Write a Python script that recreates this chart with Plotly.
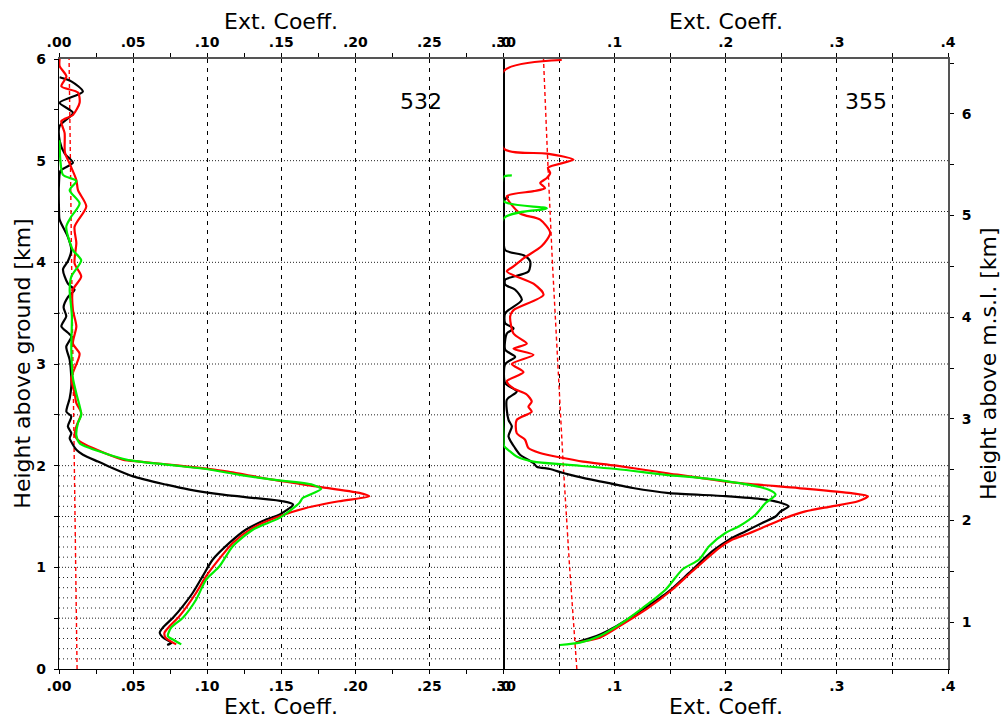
import plotly.graph_objects as go

# ---------------- profile data (height above ground [km], extinction) ----------------
# 532 nm
h_532_black = [0.236, 0.259, 0.30, 0.357, 0.406, 0.504, 0.619, 0.75, 0.913, 1.077, 1.24, 1.37, 1.47, 1.52,
               1.617, 1.65, 1.68, 1.715, 1.764, 1.813, 1.895, 1.99, 2.04, 2.108, 2.157, 2.206, 2.27, 2.32,
               2.386, 2.484, 2.53, 2.66, 2.78, 2.86, 3.04, 3.17, 3.27, 3.37, 3.47, 3.56, 3.66, 3.73, 3.79,
               3.93, 4.01, 4.12, 4.25, 4.42, 4.52, 4.78, 4.90, 4.98, 5.07, 5.2, 5.34, 5.47, 5.57, 5.68,
               5.78, 5.82]
e_532_black = [0.073, 0.076, 0.071, 0.068, 0.070, 0.0769, 0.0836, 0.0903, 0.097, 0.1038, 0.115, 0.126, 0.1398,
               0.149, 0.158, 0.151, 0.133, 0.1106, 0.088, 0.0724, 0.050, 0.034, 0.0263, 0.0162, 0.0117,
               0.0094, 0.0072, 0.0083, 0.006, 0.0083, 0.005, 0.0072, 0.0083, 0.0083, 0.0072, 0.0049, 0.0083,
               0.0016, 0.0049, 0.0031, 0.0061, 0.0105, 0.006, 0.0027, 0.006, 0.0083, 0.006, 0.0004, 0.0,
               0.0, 0.001, 0.0094, 0.0038, 0.0004, 0.0004, 0.0094, 0.0004, 0.0161, 0.0083, 0.0004]

h_532_red = [0.242, 0.308, 0.357, 0.42, 0.52, 0.75, 0.913, 1.044, 1.24, 1.388, 1.502, 1.584, 1.65, 1.699,
             1.732, 1.797, 1.862, 1.944, 2.0, 2.04, 2.06, 2.173, 2.24, 2.30, 2.386, 2.517, 2.615, 2.71, 2.86,
             3.1, 3.2, 3.37, 3.53, 3.73, 3.86, 3.99, 4.19, 4.35, 4.55, 4.71, 4.81, 4.96, 5.08, 5.27, 5.39,
             5.45, 5.57, 5.67, 5.73, 5.83, 5.93, 6.0]
e_532_red = [0.0791, 0.0719, 0.0712, 0.0746, 0.0813, 0.0926, 0.0993, 0.106, 0.1173, 0.1308, 0.1488, 0.1667,
             0.189, 0.2094, 0.2027, 0.1735, 0.144, 0.1128, 0.0813, 0.0544, 0.043, 0.0229, 0.0139, 0.0106,
             0.0117, 0.015, 0.0117, 0.0106, 0.0083, 0.0139, 0.0094, 0.0117, 0.0094, 0.0094, 0.015, 0.0105,
             0.0117, 0.0105, 0.0184, 0.0128, 0.0117, 0.0075, 0.004, 0.0038, 0.0016, 0.0094, 0.0139, 0.0128,
             0.0016, 0.005, 0.0004, 0.0004]

h_532_green = [0.242, 0.28, 0.324, 0.406, 0.504, 0.684, 0.88, 1.01, 1.208, 1.37, 1.486, 1.633, 1.682, 1.77,
               1.813, 1.862, 1.91, 1.967, 2.01, 2.06, 2.173, 2.22, 2.30, 2.42, 2.50, 2.71, 2.86, 3.14, 3.47,
               3.73, 3.86, 4.02, 4.12, 4.35, 4.45, 4.58, 4.71, 4.8, 4.86, 5.01, 5.2]
e_532_green = [0.0825, 0.078, 0.0735, 0.0757, 0.0836, 0.0926, 0.0993, 0.1083, 0.1173, 0.1308, 0.1488, 0.1622,
               0.1645, 0.1769, 0.1712, 0.1443, 0.1218, 0.0993, 0.0724, 0.0454, 0.0207, 0.0139, 0.0117, 0.0128,
               0.015, 0.0117, 0.0094, 0.0083, 0.0087, 0.0072, 0.0083, 0.015, 0.0094, 0.0049, 0.0083, 0.0139,
               0.0072, 0.0117, 0.0027, 0.0009, 0.0004]

h_532_mol = [0, 1, 2, 3, 4, 5, 6]
e_532_mol = [0.0122, 0.0112, 0.0102, 0.0093, 0.0085, 0.0077, 0.0068]

# 355 nm
h_355_black = [0.26, 0.324, 0.422, 0.586, 0.766, 0.946, 1.159, 1.273, 1.355, 1.437, 1.50, 1.55, 1.60, 1.64,
               1.666, 1.70, 1.73, 1.78, 1.846, 1.895, 1.928, 1.967, 1.99, 2.026, 2.108, 2.173, 2.288, 2.386,
               2.45, 2.65, 2.73, 2.81, 3.0, 3.07, 3.14, 3.30, 3.35, 3.40, 3.5, 3.63, 3.73, 3.78, 3.83, 3.91,
               4.01, 4.07, 4.12, 4.32, 4.6, 4.65]
e_355_black = [0.065, 0.0836, 0.1015, 0.1254, 0.149, 0.167, 0.188, 0.203, 0.218, 0.2328, 0.2448, 0.2493,
               0.2567, 0.2478, 0.2358, 0.20, 0.149, 0.1164, 0.0866, 0.0657, 0.0537, 0.0418, 0.0299, 0.0269,
               0.0149, 0.0104, 0.0045, 0.0075, 0.0045, 0.003, 0.012, 0.0015, 0.0015, 0.0105, 0.0015, 0.003,
               0.009, 0.0015, 0.0015, 0.0165, 0.0105, 0.0015, 0.0015, 0.0225, 0.024, 0.018, 0.0015, 0.0, 0.0,
               0.0045]

h_355_red = [0.26, 0.308, 0.422, 0.586, 0.782, 0.962, 1.19, 1.273, 1.322, 1.404, 1.486, 1.55, 1.60, 1.65,
             1.70, 1.73, 1.78, 1.836, 1.928, 2.0, 2.04, 2.075, 2.124, 2.173, 2.255, 2.32, 2.45, 2.53, 2.58,
             2.63, 2.70, 2.76, 2.83, 2.92, 3.0, 3.09, 3.15, 3.2, 3.30, 3.47, 3.53, 3.68, 3.79, 3.91, 3.96,
             4.04, 4.16, 4.29, 4.42, 4.48, 4.65, 4.70, 4.73, 4.78, 4.83, 4.88, 4.93, 5.01, 5.07, 5.12, 5.88,
             5.99]
e_355_red = [0.065, 0.0866, 0.1045, 0.1284, 0.152, 0.170, 0.194, 0.206, 0.218, 0.236, 0.2537, 0.2716, 0.2955,
             0.319, 0.328, 0.313, 0.2657, 0.206, 0.146, 0.1015, 0.0716, 0.0537, 0.0328, 0.0224, 0.0194,
             0.0119, 0.0119, 0.0254, 0.0224, 0.0254, 0.0209, 0.009, 0.003, 0.018, 0.0075, 0.027, 0.009,
             0.021, 0.009, 0.006, 0.009, 0.036, 0.027, 0.003, 0.009, 0.018, 0.0344, 0.042, 0.033, 0.015,
             0.003, 0.027, 0.0374, 0.033, 0.039, 0.042, 0.040, 0.063, 0.039, 0.0, 0.0, 0.0524]

h_355_green = [0.236, 0.259, 0.324, 0.439, 0.602, 0.782, 0.979, 1.077, 1.208, 1.34, 1.404, 1.52, 1.633, 1.715,
               1.764, 1.862, 1.91, 1.967, 2.01, 2.04, 2.09, 2.14, 2.19, 2.3, 4.43, 4.53, 4.6, 4.84, 4.855]
e_355_green = [0.0507, 0.0687, 0.0866, 0.1045, 0.1254, 0.146, 0.161, 0.176, 0.185, 0.20, 0.212, 0.227,
               0.2358, 0.2448, 0.2388, 0.191, 0.146, 0.1015, 0.0567, 0.0269, 0.0119, 0.006, 0.0006, 0.0, 0.0,
               0.039, 0.0, 0.0, 0.0075]

h_355_mol = [0, 1, 2, 3, 4, 5, 6]
e_355_mol = [0.0660, 0.0595, 0.0538, 0.0488, 0.0440, 0.0398, 0.0360]

# ---------------- axes ----------------
ticks_532 = [0.0, 0.05, 0.10, 0.15, 0.20, 0.25, 0.30]
labels_532 = [".00", ".05", ".10", ".15", ".20", ".25", ".30"]
ticks_355 = [0.0, 0.1, 0.2, 0.3, 0.4]
labels_355 = [".0", ".1", ".2", ".3", ".4"]
station_alt = 0.54          # km above m.s.l.
grid_heights = [round(0.1 * i, 1) for i in range(1, 21)] + [2.5, 3.0, 3.5, 4.0, 4.5, 5.0]

RED = "#ff0000"
GREEN = "#00ee00"
BLACK = "#000000"
LW = 2.2

fig = go.Figure()


def profile(e, h, color, xa, ya, dash=None, width=LW, shape="spline"):
    fig.add_trace(go.Scatter(
        x=e, y=h, mode="lines", xaxis=xa, yaxis=ya, showlegend=False, hoverinfo="skip",
        line=dict(color=color, width=width, dash=dash, shape=shape, smoothing=0.7 if shape == "spline" else None)))


# 532 panel
profile(e_532_mol, h_532_mol, RED, "x", "y", dash="4px,3px", width=1.4, shape="linear")
profile(e_532_black, h_532_black, BLACK, "x", "y")
profile(e_532_red, h_532_red, RED, "x", "y")
profile(e_532_green, h_532_green, GREEN, "x", "y")
# 355 panel
profile(e_355_mol, h_355_mol, RED, "x2", "y2", dash="4px,3px", width=1.4, shape="linear")
profile(e_355_black, h_355_black, BLACK, "x2", "y2")
profile(e_355_red, h_355_red, RED, "x2", "y2")
profile(e_355_green, h_355_green, GREEN, "x2", "y2")

# placeholder traces so that the secondary axes are rendered
for xa, ya in (("x3", "y"), ("x4", "y2"), ("x2", "y3")):
    fig.add_trace(go.Scatter(x=[None], y=[None], xaxis=xa, yaxis=ya, showlegend=False, hoverinfo="skip"))

TICKFONT = dict(family="DejaVu Sans", size=14, color="black", weight="bold")
TITLEFONT = dict(family="DejaVu Sans", size=22, color="black")

common_x = dict(showline=True, linecolor="black", linewidth=1.2, ticks="outside", ticklen=4,
                tickcolor="black", tickfont=TICKFONT, zeroline=False, layer="below traces",
                tickmode="array")

fig.update_layout(
    width=1003, height=724,
    margin=dict(l=59, r=55, t=59, b=55),
    paper_bgcolor="white", plot_bgcolor="rgba(0,0,0,0)",
    xaxis=dict(domain=[0, 0.5], range=[0, 0.30], anchor="y", side="bottom",
               tickvals=ticks_532, ticktext=labels_532, showgrid=True, gridcolor="black",
               griddash="4px,5px", gridwidth=1,
               minor=dict(dtick=0.025, ticks="outside", ticklen=4, tickcolor="black", showgrid=False),
               **common_x),
    xaxis3=dict(overlaying="x", range=[0, 0.30], anchor="y", side="top",
                tickvals=ticks_532, ticktext=labels_532, showgrid=False,
                minor=dict(dtick=0.025, ticks="outside", ticklen=4, tickcolor="black", showgrid=False),
                **{**common_x, "linecolor": "#555555", "linewidth": 2}),
    xaxis2=dict(domain=[0.5, 1], range=[0, 0.4], anchor="y2", side="bottom",
                tickvals=ticks_355, ticktext=labels_355, showgrid=True, gridcolor="black",
                griddash="4px,5px", gridwidth=1,
                minor=dict(dtick=0.05, ticks="outside", ticklen=4, tickcolor="black", showgrid=True,
                           gridcolor="black", griddash="4px,5px", gridwidth=1),
                **common_x),
    xaxis4=dict(overlaying="x2", range=[0, 0.4], anchor="y2", side="top",
                tickvals=ticks_355, ticktext=labels_355, showgrid=False,
                minor=dict(dtick=0.05, ticks="outside", ticklen=4, tickcolor="black", showgrid=False),
                **{**common_x, "linecolor": "#555555", "linewidth": 2}),
    yaxis=dict(domain=[0, 1], range=[0, 6], anchor="x", side="left", tickmode="array",
               tickvals=[0, 1, 2, 3, 4, 5, 6], ticktext=["0", "1", "2", "3", "4", "5", "6"],
               showline=True, linecolor="black", linewidth=1.2, mirror=True, ticks="outside", ticklen=4,
               tickcolor="black", tickfont=TICKFONT, showgrid=False, zeroline=False,
               ticklabelstandoff=5, layer="below traces",
               minor=dict(dtick=0.5, ticks="outside", ticklen=4, tickcolor="black")),
    yaxis2=dict(domain=[0, 1], range=[0, 6], anchor="x2", matches="y", showticklabels=False,
                showline=True, linecolor="black", linewidth=1.2, ticks="", showgrid=False,
                zeroline=False, layer="below traces"),
    yaxis3=dict(overlaying="y2", anchor="x2", side="right", range=[station_alt, 6 + station_alt],
                tickmode="array", tickvals=[1, 2, 3, 4, 5, 6], ticktext=["1", "2", "3", "4", "5", "6"],
                showline=True, linecolor="#555555", linewidth=2, ticks="outside", ticklen=4,
                tickcolor="black", tickfont=TICKFONT, showgrid=False, zeroline=False,
                ticklabelstandoff=5, layer="below traces",
                minor=dict(dtick=0.5, ticks="outside", ticklen=4, tickcolor="black")),
)

# horizontal dotted reference heights across both panels
for hh in grid_heights:
    major = abs(hh * 2 - round(hh * 2)) < 1e-6
    fig.add_shape(type="line", xref="paper", x0=0, x1=1, yref="y", y0=hh, y1=hh, layer="below",
                  line=dict(color="#222222", width=1, dash="1px,2px" if major else "1px,3px"))

# titles and labels
for xc in (0.25, 0.75):
    fig.add_annotation(text="Ext. Coeff.", xref="paper", yref="paper", x=xc, y=1.062, showarrow=False,
                       font=TITLEFONT, xanchor="center", yanchor="middle")
    fig.add_annotation(text="Ext. Coeff.", xref="paper", yref="paper", x=xc, y=-0.062, showarrow=False,
                       font=TITLEFONT, xanchor="center", yanchor="middle")
fig.add_annotation(text="Height above ground [km]", xref="paper", yref="paper", x=-0.042, y=0.5,
                   textangle=-90, showarrow=False, font=TITLEFONT, xanchor="center", yanchor="middle")
fig.add_annotation(text="Height above m.s.l. [km]", xref="paper", yref="paper", x=1.045, y=0.5,
                   textangle=-90, showarrow=False, font=TITLEFONT, xanchor="center", yanchor="middle")
fig.add_annotation(text="532", xref="x", yref="y", x=0.244, y=5.58, showarrow=False,
                   font=TITLEFONT, xanchor="center", yanchor="middle")
fig.add_annotation(text="355", xref="x2", yref="y", x=0.326, y=5.58, showarrow=False,
                   font=TITLEFONT, xanchor="center", yanchor="middle")

fig.write_html("out.html")
